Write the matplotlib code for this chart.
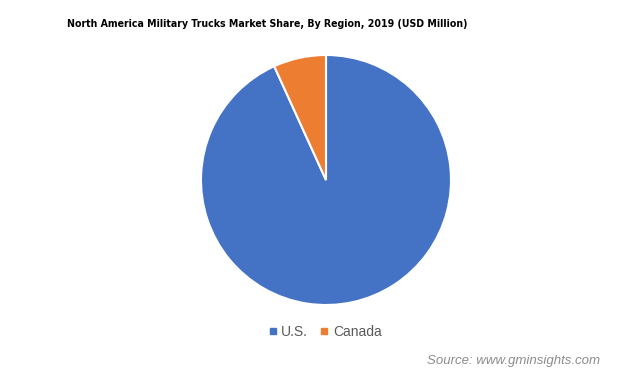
import matplotlib
matplotlib.use("Agg")
import matplotlib.pyplot as plt

# Market share values
regions = ["U.S.", "Canada"]
shares = [93.2, 6.8]
colors = ["#4472C4", "#ED7D31"]

W, H = 623, 379
fig = plt.figure(figsize=(W / 100, H / 100), dpi=100)

# pie area: centre ~ (326, 180) px, radius ~ 125 px
cx, cy, r = 326, 180, 125
ax = fig.add_axes([(cx - r) / W, (H - cy - r) / H, 2 * r / W, 2 * r / H])
ax.pie(shares, colors=colors, startangle=90, counterclock=False,
       wedgeprops=dict(edgecolor="white", linewidth=1.5), radius=1.0)
ax.set_xlim(-1, 1)
ax.set_ylim(-1, 1)
ax.set_aspect("equal")
ax.axis("off")

fig.text(267 / W, 1 - 24 / H,
         "North America Military Trucks Market Share, By Region, 2019 (USD Million)",
         ha="center", va="center", fontsize=7.6, fontweight="bold",
         fontstretch="condensed", family=["DejaVu Sans"], color="#000000")

# legend
handles = [plt.Line2D([], [], marker="s", linestyle="", color=c, markersize=4.5)
           for c in colors]
fig.legend(handles, regions, loc="center", bbox_to_anchor=(325 / W, 1 - 332 / H),
           ncol=2, frameon=False, handlelength=0.6, handletextpad=0.3,
           columnspacing=0.9, labelcolor="#595959",
           prop={"family": ["Liberation Sans", "DejaVu Sans"], "size": 10})

fig.text(600 / W, 1 - 361 / H, "Source: www.gminsights.com", ha="right", va="center",
         fontsize=9.5, style="italic", color="#8C8C8C",
         family=["Liberation Sans", "DejaVu Sans"])

fig.savefig("out.png", dpi=100, facecolor="white")
